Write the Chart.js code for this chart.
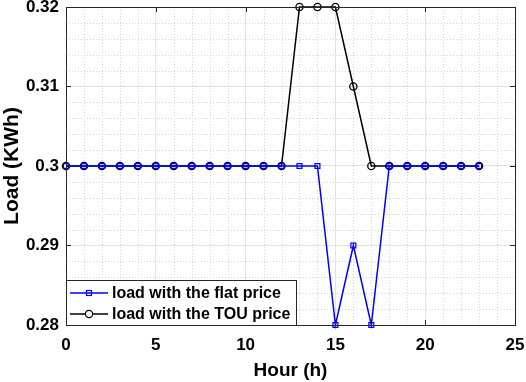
<!DOCTYPE html>
<html><head><meta charset="utf-8">
<script src="https://cdn.jsdelivr.net/npm/chart.js@4"></script>
<style>html,body{margin:0;padding:0;background:#fff}#w{width:526px;height:382px}</style>
</head><body><div id="w"><canvas id="c" width="526" height="382"></canvas></div>
<script>
const hours = [0,1,2,3,4,5,6,7,8,9,10,11,12,13,14,15,16,17,18,19,20,21,22,23];
const flatLoad = [0.30,0.30,0.30,0.30,0.30,0.30,0.30,0.30,0.30,0.30,0.30,0.30,0.30,0.30,0.30,0.28,0.29,0.28,0.30,0.30,0.30,0.30,0.30,0.30];
const touLoad  = [0.30,0.30,0.30,0.30,0.30,0.30,0.30,0.30,0.30,0.30,0.30,0.30,0.30,0.32,0.32,0.32,0.31,0.30,0.30,0.30,0.30,0.30,0.30,0.30];
const seriesLabels = ['load with the flat price','load with the TOU price'];
const xTitle = 'Hour (h)';
const yTitle = 'Load (KWh)';

const FONT = "'Liberation Sans', Arial, sans-serif";

const frame = {
  id:'frame',
  beforeDatasetsDraw(chart){
    const {ctx, chartArea:a, scales:{x,y}} = chart;
    ctx.save();
    ctx.strokeStyle = '#d4d4d4';
    ctx.lineWidth = 1;
    ctx.setLineDash([1,2]);
    for(let v=1; v<25; v++){ if(v%5===0) continue;
      const px = Math.round(x.getPixelForValue(v))+0.5;
      ctx.beginPath(); ctx.moveTo(px,a.top); ctx.lineTo(px,a.bottom); ctx.stroke(); }
    for(let i=1;i<20;i++){ if(i%5===0) continue;
      const py = Math.round(y.getPixelForValue(0.28+i*0.002))+0.5;
      ctx.beginPath(); ctx.moveTo(a.left,py); ctx.lineTo(a.right,py); ctx.stroke(); }
    ctx.restore();
  },
  afterDatasetsDraw(chart){
    const {ctx, chartArea:a, scales:{x,y}} = chart;
    ctx.save();
    ctx.strokeStyle = '#262626'; ctx.lineWidth = 1; ctx.setLineDash([]);
    ctx.strokeRect(Math.round(a.left)+0.5, Math.round(a.top)+0.5, Math.round(a.right-a.left), Math.round(a.bottom-a.top));
    for(let v=5; v<25; v+=5){ const px=Math.round(x.getPixelForValue(v))+0.5;
      ctx.beginPath(); ctx.moveTo(px,a.top); ctx.lineTo(px,a.top+5); ctx.moveTo(px,a.bottom); ctx.lineTo(px,a.bottom-5); ctx.stroke(); }
    for(let i=1;i<4;i++){ const py=Math.round(y.getPixelForValue(0.28+i*0.01))+0.5;
      ctx.beginPath(); ctx.moveTo(a.left,py); ctx.lineTo(a.left+5,py); ctx.moveTo(a.right,py); ctx.lineTo(a.right-5,py); ctx.stroke(); }
    // legend
    const lx = Math.round(a.left), ly = 280, lw = 230, lh = Math.round(a.bottom) - ly;
    ctx.fillStyle = '#fff'; ctx.fillRect(lx, ly, lw, lh);
    ctx.strokeStyle = '#262626'; ctx.strokeRect(lx+0.5, ly+0.5, lw, lh);
    const ds = chart.data.datasets;
    const rows = [293, 314];
    ds.forEach((d,i)=>{
      const yy = rows[i];
      ctx.strokeStyle = d.borderColor; ctx.lineWidth = 1.5;
      ctx.beginPath(); ctx.moveTo(lx+4, yy); ctx.lineTo(lx+42, yy); ctx.stroke();
      ctx.lineWidth = 1.2;
      if(d.pointStyle==='rect'){ ctx.strokeRect(lx+23-2.5, yy-2.5, 5, 5); }
      else { ctx.beginPath(); ctx.arc(lx+23, yy, 3.6, 0, Math.PI*2); ctx.fillStyle='#fff'; ctx.fill(); ctx.stroke(); }
      ctx.fillStyle = '#000'; ctx.font = 'bold 16px '+FONT; ctx.textBaseline='middle'; ctx.textAlign='left';
      ctx.fillText(d.label, lx+46, yy+1);
    });
    ctx.restore();
  }
};

new Chart(document.getElementById('c'), {
  type:'line',
  data:{
    datasets:[
      {label:seriesLabels[0], data:hours.map((h,i)=>({x:h,y:flatLoad[i]})), borderColor:'#0000ff', backgroundColor:'rgba(0,0,0,0)',
       borderWidth:1.5, pointStyle:'rect', pointRadius:3.5, pointBorderWidth:1.2, pointBorderColor:'#0000ff', pointBackgroundColor:'rgba(0,0,0,0)', tension:0},
      {label:seriesLabels[1], data:hours.map((h,i)=>({x:h,y:touLoad[i]})), borderColor:'#000000', backgroundColor:'rgba(0,0,0,0)',
       borderWidth:1.5, pointStyle:'circle', pointRadius:3.6, pointBorderWidth:1.3, pointBorderColor:'#000000', pointBackgroundColor:'rgba(0,0,0,0)', tension:0}
    ]
  },
  options:{
    responsive:false, animation:false, maintainAspectRatio:false,
    clip:false,
    layout:{padding:{top:7,right:11,left:0,bottom:0}},
    plugins:{legend:{display:false}, tooltip:{enabled:false}},
    scales:{
      x:{type:'linear', min:0, max:25,
         ticks:{stepSize:5, color:'#000', font:{family:FONT, size:17, weight:'bold'}, padding:10, maxRotation:0},
         grid:{color:'#e3e3e3', drawTicks:false}, border:{display:false},
         title:{display:true, text:xTitle, color:'#000', font:{family:FONT, size:19, weight:'bold'}, padding:{top:1,bottom:0}},
         afterFit(s){ s.height = 57; s.paddingLeft = 0; s.paddingRight = 0; }},
      y:{type:'linear', min:0.28, max:0.32,
         ticks:{stepSize:0.01, color:'#000', font:{family:FONT, size:17, weight:'bold'}, padding:7,
                callback:v=>{ const r=Math.round(v*100)/100; return String(r); }},
         grid:{color:'#e3e3e3', drawTicks:false}, border:{display:false},
         title:{display:true, text:yTitle, color:'#000', font:{family:FONT, size:21, weight:'bold'}, padding:{top:0,bottom:6}},
         afterFit(s){ s.width = 66; s.paddingTop = 0; s.paddingBottom = 0; }}
    }
  },
  plugins:[frame]
});
</script></body></html>
